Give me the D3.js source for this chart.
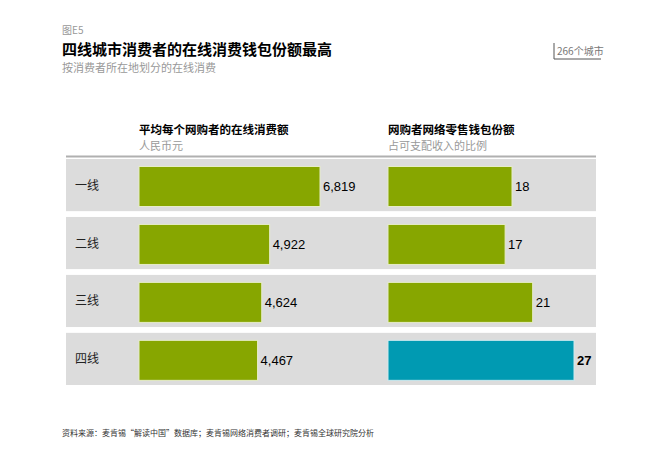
<!DOCTYPE html>
<html><head><meta charset="utf-8">
<script src="https://cdn.jsdelivr.net/npm/d3@7/dist/d3.min.js"></script>
<style>body{margin:0;background:#fff;} svg{display:block;}</style>
</head><body><svg id="c" width="669" height="473"></svg>
<script>
const categories = ["一线", "二线", "三线", "四线"];
const spendValues = [6819, 4922, 4624, 4467];
const shareValues = [18, 17, 21, 27];
const highlightIndex = 3;

const svg = d3.select("#c");
const cjk = "'Noto Sans CJK SC', sans-serif";
const num = "'Liberation Sans', Arial, sans-serif";

// Titles
svg.append("text").attr("x", 62).attr("y", 34).attr("font-family", cjk).attr("font-size", 10).attr("fill", "#999").text("图E5");
svg.append("text").attr("x", 62).attr("y", 55).attr("font-family", cjk).attr("font-size", 15).attr("font-weight", "bold").attr("fill", "#000").text("四线城市消费者的在线消费钱包份额最高");
svg.append("text").attr("x", 62).attr("y", 72).attr("font-family", cjk).attr("font-size", 11).attr("fill", "#999").text("按消费者所在地划分的在线消费");

// badge
svg.append("line").attr("x1", 554).attr("x2", 554).attr("y1", 43).attr("y2", 59).attr("stroke", "#555").attr("stroke-width", 1);
svg.append("line").attr("x1", 554).attr("x2", 601).attr("y1", 59).attr("y2", 59).attr("stroke", "#555").attr("stroke-width", 1);
svg.append("text").attr("x", 557).attr("y", 55).attr("font-family", cjk).attr("font-size", 10).attr("fill", "#777").text("266个城市");

// column headers
svg.append("text").attr("x", 139).attr("y", 134).attr("font-family", cjk).attr("font-size", 11.5).attr("font-weight", "bold").attr("fill", "#000").text("平均每个网购者的在线消费额");
svg.append("text").attr("x", 139).attr("y", 150).attr("font-family", cjk).attr("font-size", 11).attr("fill", "#999").text("人民币元");
svg.append("text").attr("x", 388).attr("y", 134).attr("font-family", cjk).attr("font-size", 11.5).attr("font-weight", "bold").attr("fill", "#000").text("网购者网络零售钱包份额");
svg.append("text").attr("x", 388).attr("y", 150).attr("font-family", cjk).attr("font-size", 11).attr("fill", "#999").text("占可支配收入的比例");

svg.append("line").attr("x1", 66).attr("x2", 596).attr("y1", 156.5).attr("y2", 156.5).attr("stroke", "#b0b0b0").attr("stroke-width", 2);

// scales
const y = d3.scaleBand().domain(categories).range([159, 385]).paddingInner(0.1).paddingOuter(0);
const xL = d3.scaleLinear().domain([0, 6819]).range([139, 320]);
const xR = d3.scaleLinear().domain([0, 27]).range([388, 574]);

const rows = svg.append("g").selectAll("g").data(categories).join("g");
rows.append("rect").attr("x", 66).attr("width", 530).attr("y", d => y(d)).attr("height", y.bandwidth()).attr("fill", "#dcdcdc");
rows.append("text").attr("x", 75).attr("y", d => y(d) + y.bandwidth() / 2 + 4.5).attr("font-family", cjk).attr("font-size", 12).attr("fill", "#222").text(d => d);

const barTop = 7.5, barH = 40;
rows.append("rect")
  .attr("x", xL(0)).attr("y", d => y(d) + barTop)
  .attr("width", (d, i) => xL(spendValues[i]) - xL(0))
  .attr("height", barH)
  .attr("fill", "#87a600").attr("stroke", "#e6ecc8").attr("stroke-width", 1);
rows.append("text")
  .attr("x", (d, i) => xL(spendValues[i]) + 3).attr("y", d => y(d) + barTop + barH / 2 + 4.5)
  .attr("font-family", num).attr("font-size", 13).attr("fill", "#000")
  .text((d, i) => d3.format(",")(spendValues[i]));

rows.append("rect")
  .attr("x", xR(0)).attr("y", d => y(d) + barTop)
  .attr("width", (d, i) => xR(shareValues[i]) - xR(0))
  .attr("height", barH)
  .attr("fill", (d, i) => i === highlightIndex ? "#009ab2" : "#87a600")
  .attr("stroke", (d, i) => i === highlightIndex ? "#cde9ee" : "#e6ecc8").attr("stroke-width", 1);
rows.append("text")
  .attr("x", (d, i) => xR(shareValues[i]) + 3).attr("y", d => y(d) + barTop + barH / 2 + 4.5)
  .attr("font-family", num).attr("font-size", 13).attr("fill", "#000")
  .attr("font-weight", (d, i) => i === highlightIndex ? "bold" : "normal")
  .text((d, i) => shareValues[i]);

svg.append("text").attr("x", 62).attr("y", 436).attr("font-family", cjk).attr("font-size", 8).attr("fill", "#333").text("资料来源：麦肯锡“解读中国”数据库；麦肯锡网络消费者调研；麦肯锡全球研究院分析");
</script></body></html>
